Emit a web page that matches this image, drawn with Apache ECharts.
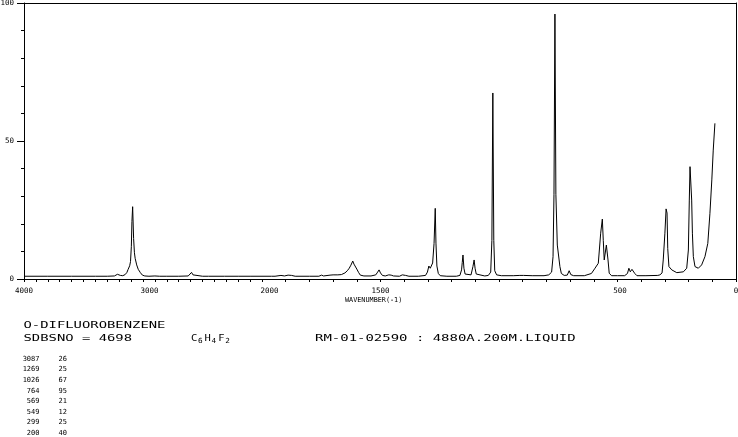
<!DOCTYPE html>
<html><head><meta charset="utf-8">
<script src="https://cdn.jsdelivr.net/npm/echarts@6/dist/echarts.min.js"></script>
<style>html,body{margin:0;padding:0;background:#fff;overflow:hidden}#c{width:738px;height:437px}</style>
</head><body><div id="c"></div>
<script>
// ---- data ----
const wavenumbers = [
  4000,3800,3600,3400,3300,3240,3215,3205,3190,3170,3150,3135,3125,3112,3105,3098,3093,3087,3079,3072,3066,3053,3040,3022,3005,2985,2950,2900,2860,2800,2700,2620,2605,2592,2580,2565,2500,2450,2445,2435,2315,2310,2300,2200,2100,2000,
  1960,1953,1945,1920,1905,1890,1875,1860,1800,1760,1749,1740,1713,1700,1680,1665,1650,1640,1632,1625,1617,1612,1606,1600,1592,1585,1570,1540,1520,1512,1506,1500,1492,1480,1465,1455,1445,1420,1408,1401,1394,1380,1340,1310,1302,1296,1290,1286,1280,1274,1269,1266,1262,1256,1248,1220,1180,1165,1158,1155,1152,1148,1143,1135,1118,1110,1105,1101,1096,1088,1060,1045,1035,1030,1026,1022,1018,1010,990,940,912,904,896,860,810,790,778,772,768,764,760,754,749,743,737,725,712,704,697,685,640,610,595,581,571,564,560,556,553,547,544,540,535,525,500,470,458,452,446,439,433,427,418,380,330,321,312,307,300,295,291,288,283,271,250,222,208,201,197,194,191,187,184,180,173,159,145,131,119,110,102,96,89
];
const intensities = [
  1.0,1.0,1.0,1.0,1.0,1.1,1.7,1.6,1.3,1.2,1.6,2.4,3.5,4.8,6.3,11.7,20.8,26.2,14.7,9.5,7.5,5.1,3.5,2.3,1.4,1.1,1.0,1.1,1.0,1.0,1.0,1.1,1.6,2.4,1.5,1.0,1.0,1.0,1.4,1.0,1.0,1.4,1.0,1.0,1.0,1.0,
  1.0,1.4,1.0,1.3,1.1,1.4,1.3,1.0,1.0,1.0,1.4,1.1,1.4,1.5,1.5,1.6,2.2,3.0,3.9,5.0,6.5,5.4,5.1,3.6,2.3,1.4,1.1,1.1,1.5,2.5,3.3,2.2,1.3,1.1,1.5,1.4,1.1,1.0,1.5,2.1,1.3,1.0,1.0,1.3,2.5,4.7,3.9,4.2,5.8,12.9,25.6,13.0,4.7,2.0,1.2,1.0,1.0,1.3,3.3,6.0,8.7,3.9,1.8,1.2,1.5,4.5,6.9,3.9,1.8,1.2,1.1,1.3,2.5,14.0,67.4,14.0,3.0,1.5,1.2,1.2,1.3,1.8,1.3,1.2,1.2,1.5,2.5,8.1,30.7,96.0,30.7,12.3,11.6,4.5,2.0,1.3,1.4,3.0,1.6,1.2,1.2,2.0,3.9,5.7,16.6,21.7,14.0,6.9,8.7,12.3,12.9,6.9,2.1,1.2,1.2,1.2,2.0,3.9,2.6,3.5,3.9,2.0,1.2,1.2,1.3,1.5,2.2,6.9,16.6,25.4,23.9,11.0,4.5,3.3,2.3,2.6,3.9,10.5,28.6,40.7,40.0,28.6,16.6,8.1,4.5,3.9,5.1,8.1,12.9,23.8,35.9,46.7,56.4
];
const xTickLabels = [4000, 3000, 2000, 1500, 500, 0];
const yTickLabels = [0, 50, 100];
const compoundName = 'O-DIFLUOROBENZENE';
const sdbsLine = 'SDBSNO = 4698';
const formulaParts = [['C','6'],['H','4'],['F','2']];
const measureLine = 'RM-01-02590 : 4880A.200M.LIQUID';
const axisTitle = 'WAVENUMBER(-1)';
const peakWavenumbers = ['3087','1269','1026','764','569','549','299','200'];
const peakIntensities = ['26','25','67','95','21','12','25','40'];

// ---- build ----
const dataHigh = [], dataLow = [];
wavenumbers.forEach((w, i) => {
  if (w >= 2000) dataHigh.push([w, intensities[i]]);
  if (w <= 2000) dataLow.push([w, intensities[i]]);
});
const MONO = '"DejaVu Sans Mono", monospace';
const labelShift = {3000: 13, 2000: 15, 500: 5};
function xFmt(allowed) {
  return function (v) {
    if (!allowed.includes(v) || !xTickLabels.includes(v)) return '';
    const p = labelShift[v];
    return p ? '{s' + p + '|' + v + '}' : String(v);
  };
}
const rich = {};
Object.values(labelShift).forEach(p => { rich['s' + p] = {padding: [0, 0, 0, p], fontSize: 7.5, fontFamily: MONO, color: '#000'}; });

const black = '#000';
const xBase = {
  type: 'value', inverse: true, interval: 100,
  axisLine: {show: true, onZero: false, lineStyle: {color: black, width: 1}},
  axisTick: {show: true, length: 3, lineStyle: {color: black}},
  axisLabel: {show: true, interval: 0, margin: 8, fontSize: 7.5, fontFamily: MONO, color: black, rich: rich, showMinLabel: true, showMaxLabel: true},
  splitLine: {show: false}
};
const topLine = {
  type: 'value', position: 'top', inverse: true,
  axisLine: {show: true, onZero: false, lineStyle: {color: black, width: 1}},
  axisTick: {show: false}, axisLabel: {show: false}, splitLine: {show: false}
};

const graphic = [];
function addText(text, x, y, size, scaleX, align) {
  graphic.push({type: 'text', x: x, y: y, scaleX: scaleX || 1, silent: true,
    style: {text: text, font: size + 'px ' + MONO, fill: black, textAlign: align || 'left', textVerticalAlign: 'middle'}});
}
addText(axisTitle, 345, 300, 6.8, 1, 'left');
addText(compoundName, 23.5, 325.5, 9.5, 1.46);
addText(sdbsLine, 23.5, 338.5, 9.5, 1.46);
let fx = 191;
formulaParts.forEach(([el, n]) => {
  addText(el, fx, 338.5, 9.5, 1.1);
  addText(n, fx + 7, 341.2, 7, 1.1);
  fx += 13.6;
});
addText(measureLine, 315, 338.5, 9.5, 1.47);
graphic.push({type: 'text', x: 39.5, y: 353.7, silent: true,
  style: {text: peakWavenumbers.join('\n'), font: '7px ' + MONO, fill: black, textAlign: 'right', textVerticalAlign: 'top', lineHeight: 10.6}});
graphic.push({type: 'text', x: 67, y: 353.7, silent: true,
  style: {text: peakIntensities.join('\n'), font: '7px ' + MONO, fill: black, textAlign: 'right', textVerticalAlign: 'top', lineHeight: 10.6}});

const chart = echarts.init(document.getElementById('c'), null, {renderer: 'canvas'});
chart.setOption({
  animation: false,
  backgroundColor: '#fff',
  grid: [
    {left: 24, top: 3, width: 238, height: 276, containLabel: false, outerBoundsMode: 'none'},
    {left: 262, top: 3, width: 474, height: 276, containLabel: false, outerBoundsMode: 'none'}
  ],
  xAxis: [
    Object.assign({}, xBase, {gridIndex: 0, min: 2000, max: 4000, axisLabel: Object.assign({}, xBase.axisLabel, {formatter: xFmt([4000, 3000])})}),
    Object.assign({}, xBase, {gridIndex: 1, min: 0, max: 2000, axisLabel: Object.assign({}, xBase.axisLabel, {formatter: xFmt([2000, 1500, 500, 0])})}),
    Object.assign({}, topLine, {gridIndex: 0, min: 2000, max: 4000}),
    Object.assign({}, topLine, {gridIndex: 1, min: 0, max: 2000})
  ],
  yAxis: [
    {type: 'value', gridIndex: 0, min: 0, max: 100, interval: 50,
      axisLine: {show: true, lineStyle: {color: black, width: 1}},
      axisTick: {show: true, length: 7, lineStyle: {color: black}},
      minorTick: {show: true, splitNumber: 5, length: 3, lineStyle: {color: black}},
      axisLabel: {show: true, margin: 10, fontSize: 7.5, fontFamily: MONO, color: black,
        formatter: v => yTickLabels.includes(v) ? String(v) : ''},
      splitLine: {show: false}, minorSplitLine: {show: false}},
    {type: 'value', gridIndex: 1, position: 'right', min: 0, max: 100,
      axisLine: {show: true, lineStyle: {color: black, width: 1}},
      axisTick: {show: false}, axisLabel: {show: false}, splitLine: {show: false}}
  ],
  series: [
    {type: 'line', xAxisIndex: 0, yAxisIndex: 0, data: dataHigh, showSymbol: false, symbol: 'none',
      lineStyle: {color: black, width: 1}, silent: true},
    {type: 'line', xAxisIndex: 1, yAxisIndex: 1, data: dataLow, showSymbol: false, symbol: 'none',
      lineStyle: {color: black, width: 1}, silent: true}
  ],
  graphic: graphic
});
</script></body></html>
